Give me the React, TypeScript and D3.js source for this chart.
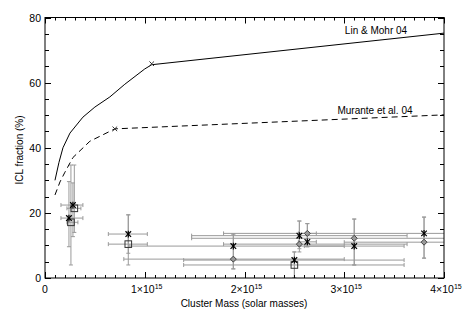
import React from "react";
import * as d3 from "d3";

// Model curves (mass in 1e15 solar masses, ICL fraction in %)
const linMass = [0.1, 0.14, 0.18, 0.25, 0.38, 0.5, 0.65, 0.8, 1.0, 1.07, 4.0];
const linFrac = [30, 35.5, 40, 44.5, 49.4, 52.5, 55.6, 59.5, 64.2, 65.5, 75.2];
const linMarker = [1.07, 65.8];

const murMass = [0.1, 0.15, 0.2, 0.28, 0.45, 0.7, 4.0];
const murFrac = [25.5, 29.5, 32.5, 37, 42, 45.8, 50.1];
const murMarker = [0.7, 45.8];

// Observed points: [mass, frac, massLo, massHi, fracLo, fracHi]
const asteriskPts: number[][] = [
  [0.24, 18.4, 0.16, 0.38, 9.6, 29.6],
  [0.28, 22.4, 0.16, 0.38, 12.7, 29.2],
  [0.835, 13.5, 0.635, 1.026, 7.6, 19.4],
  [1.888, 9.8, 0.85, 3.0, 2.8, 13.5],
  [2.5, 5.5, 1.39, 3.6, 0, 8.0],
  [2.55, 13.0, 1.47, 3.63, 9.0, 17.5],
  [2.63, 11.1, 2.54, 2.72, 9.6, 16.7],
  [3.1, 9.8, 2.6, 3.6, 4.0, 18.1],
  [3.8, 13.7, 1.79, 4.6, 6.1, 18.7],
];
const squarePts: number[][] = [
  [0.26, 17.1, 0.22, 0.33, 4.0, 34.7],
  [0.294, 21.4, 0.22, 0.36, 14, 34.7],
  [0.835, 10.4, 0.635, 1.026, 4.0, 19.4],
  [2.5, 4.0, 1.39, 3.6, 0, 8.0],
];
const diamondPts: number[][] = [
  [1.888, 5.8, 0.79, 3.0, 2.8, 13.5],
  [2.55, 10.4, 1.79, 3.63, 8.0, 17.5],
  [2.63, 13.7, 2.54, 2.72, 9.6, 16.7],
  [3.1, 12.2, 1.47, 4.6, 4.0, 18.1],
  [3.8, 11.0, 3.0, 4.6, 6.1, 18.7],
];

const xTicks = [0, 1, 2, 3, 4];
const yTicks = [0, 20, 40, 60, 80];

const W = 467, H = 317;
const L = 45, R = 444, T = 17.5, B = 278;
const FONT = "'Liberation Sans', Arial, sans-serif";

export default function App() {
  const x = d3.scaleLinear().domain([0, 4]).range([L, R]);
  const y = d3.scaleLinear().domain([0, 80]).range([B, T]);

  const line = d3.line<number>().x((_, i) => 0).y(() => 0);
  const mk = (ms: number[], fs: number[]) =>
    d3.line<number>().x((m) => x(m)).y((_, i) => y(fs[i]))(ms) as string;

  const xMinor = d3.range(0, 40.001, 1).map((v) => v / 10);
  const yMinor = d3.range(0, 81, 5);

  const errCol = "#9a9a9a";
  const cap = 2;

  const errBars = (pts: number[][], key: string) =>
    pts.map((p, i) => {
      const [m, f, mlo, mhi, flo, fhi] = p;
      const cx = x(m), cy = y(f);
      return (
        <g key={key + i} stroke={errCol} strokeWidth={1} fill="none">
          <line x1={x(mlo)} x2={x(mhi)} y1={cy} y2={cy} />
          <line x1={x(mlo)} x2={x(mlo)} y1={cy - cap} y2={cy + cap} />
          <line x1={x(mhi)} x2={x(mhi)} y1={cy - cap} y2={cy + cap} />
          <line x1={cx} x2={cx} y1={y(flo)} y2={y(fhi)} />
          <line x1={cx - cap} x2={cx + cap} y1={y(flo)} y2={y(flo)} />
          <line x1={cx - cap} x2={cx + cap} y1={y(fhi)} y2={y(fhi)} />
        </g>
      );
    });

  const xLabel = (v: number) =>
    v === 0 ? (
      <tspan>0</tspan>
    ) : (
      <>
        <tspan>{v}×10</tspan>
        <tspan dy={-4} fontSize={7}>15</tspan>
      </>
    );

  void line;

  return (
    <svg width={W} height={H} style={{ position: "absolute", left: 0, top: 0, background: "#fff" }}>
      <rect width={W} height={H} fill="#fff" />
      <defs>
        <clipPath id="plot">
          <rect x={L} y={T} width={R - L} height={B - T} />
        </clipPath>
      </defs>

      <g clipPath="url(#plot)">
        {errBars(asteriskPts, "a")}
        {errBars(squarePts, "s")}
        {errBars(diamondPts, "d")}

        <path d={mk(linMass, linFrac)} fill="none" stroke="#000" strokeWidth={1} />
        <path d={mk(murMass, murFrac)} fill="none" stroke="#000" strokeWidth={1} strokeDasharray="6,4" />

        {[linMarker, murMarker].map((p, i) => {
          const cx = x(p[0]), cy = y(p[1]);
          const s = 2.3;
          return (
            <g key={"xm" + i} stroke="#333" strokeWidth={1}>
              <line x1={cx - s} x2={cx + s} y1={cy - s} y2={cy + s} />
              <line x1={cx - s} x2={cx + s} y1={cy + s} y2={cy - s} />
            </g>
          );
        })}

        {squarePts.map((p, i) => {
          const s = 3.3;
          return (
            <rect key={"sq" + i} x={x(p[0]) - s} y={y(p[1]) - s} width={2 * s} height={2 * s}
              fill="none" stroke="#333" strokeWidth={1} />
          );
        })}
        {diamondPts.map((p, i) => {
          const cx = x(p[0]), cy = y(p[1]);
          const s = 3;
          return (
            <path key={"dm" + i} d={`M${cx},${cy - s}L${cx + s},${cy}L${cx},${cy + s}L${cx - s},${cy}Z`}
              fill="#999" stroke="#444" strokeWidth={1} />
          );
        })}
        {asteriskPts.map((p, i) => {
          const cx = x(p[0]), cy = y(p[1]);
          const s = 2.8;
          return (
            <g key={"as" + i} stroke="#000" strokeWidth={1.2}>
              <line x1={cx - s} x2={cx + s} y1={cy - s} y2={cy + s} />
              <line x1={cx - s} x2={cx + s} y1={cy + s} y2={cy - s} />
              <line x1={cx} x2={cx} y1={cy - s * 1.2} y2={cy + s * 1.2} />
            </g>
          );
        })}
      </g>

      {/* axes box */}
      <rect x={L} y={T} width={R - L} height={B - T} fill="none" stroke="#000" strokeWidth={1} />

      {/* x ticks */}
      <g stroke="#000" strokeWidth={1}>
        {xMinor.map((v, i) => {
          const major = Math.abs(v - Math.round(v)) < 1e-6;
          const len = major ? 6 : 3;
          const px = Math.round(x(v)) + 0.5;
          return (
            <g key={"xt" + i}>
              <line x1={px} x2={px} y1={B} y2={B - len} />
              <line x1={px} x2={px} y1={T} y2={T + len} />
            </g>
          );
        })}
        {yMinor.map((v, i) => {
          const major = v % 20 === 0;
          const len = major ? 6 : 4;
          const py = Math.round(y(v)) + 0.5;
          return (
            <g key={"yt" + i}>
              <line x1={L} x2={L + len} y1={py} y2={py} />
              <line x1={R} x2={R - len} y1={py} y2={py} />
            </g>
          );
        })}
      </g>

      <g fontFamily={FONT} fontSize={10.5} fill="#000">
        {xTicks.map((v) => (
          <text key={"xl" + v} x={x(v) + (v === 0 ? 0 : 2)} y={293} textAnchor="middle">
            {xLabel(v)}
          </text>
        ))}
        {yTicks.map((v) => (
          <text key={"yl" + v} x={41} y={y(v) + 4} textAnchor="end">
            {v}
          </text>
        ))}
        <text x={244} y={307} textAnchor="middle" fontSize={10}>Cluster Mass (solar masses)</text>
        <text transform="translate(23,150) rotate(-90)" textAnchor="middle" fontSize={10}>ICL fraction (%)</text>
        <text x={376} y={34} textAnchor="middle" fontSize={10}>Lin &amp; Mohr 04</text>
        <text x={375} y={113.5} textAnchor="middle" fontSize={10}>Murante et al. 04</text>
      </g>
    </svg>
  );
}
